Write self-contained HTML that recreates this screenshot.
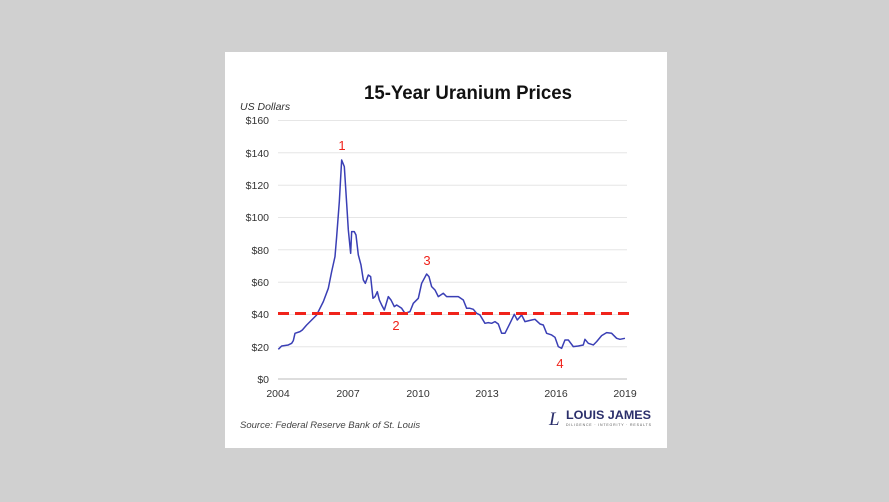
<!DOCTYPE html>
<html><head><style>
body{margin:0;width:889px;height:502px;background:#d0d0d0;overflow:hidden;font-family:"Liberation Sans",sans-serif}
</style></head><body>
<svg width="889" height="502" style="position:absolute;left:0;top:0">
<rect x="225" y="52" width="442" height="396" fill="#fff"/>
<text x="468" y="99" text-anchor="middle" font-size="19.5" font-weight="bold" fill="#111" textLength="208" lengthAdjust="spacingAndGlyphs">15-Year Uranium Prices</text>
<text x="240" y="110" font-size="10.5" font-style="italic" fill="#333">US Dollars</text>
<g stroke="#e6e6e6" stroke-width="1">
<line x1="278" x2="627" y1="120.5" y2="120.5"/><line x1="278" x2="627" y1="152.8" y2="152.8"/>
<line x1="278" x2="627" y1="185.2" y2="185.2"/><line x1="278" x2="627" y1="217.5" y2="217.5"/>
<line x1="278" x2="627" y1="249.8" y2="249.8"/><line x1="278" x2="627" y1="282.2" y2="282.2"/>
<line x1="278" x2="627" y1="314.5" y2="314.5"/><line x1="278" x2="627" y1="346.8" y2="346.8"/>
</g>
<line x1="278" x2="627" y1="379" y2="379" stroke="#bbb"/>
<g font-size="10.5" fill="#333" text-anchor="end">
<text x="269" y="124">$160</text><text x="269" y="157">$140</text><text x="269" y="189">$120</text>
<text x="269" y="221">$100</text><text x="269" y="254">$80</text><text x="269" y="286">$60</text>
<text x="269" y="318">$40</text><text x="269" y="351">$20</text><text x="269" y="383">$0</text>
</g>
<g font-size="10.5" fill="#333" text-anchor="middle">
<text x="278" y="397">2004</text><text x="348" y="397">2007</text><text x="418" y="397">2010</text>
<text x="487" y="397">2013</text><text x="556" y="397">2016</text><text x="625" y="397">2019</text>
</g>
<g transform="translate(225,50) scale(0.3333)">
<polyline fill="none" stroke="#3a3fb5" stroke-width="4.5" stroke-linejoin="round" points="160,898 170,888 190,885 200,880 205,872 210,850 225,845 232,840 245,825 260,810 275,795 295,755 310,715 320,665 330,620 335,560 343,455 350,330 358,350 365,460 370,540 377,610 380,545 388,545 393,555 400,615 408,645 415,690 421,700 430,675 437,680 444,745 450,740 457,725 463,750 470,765 478,780 490,740 498,750 508,770 515,765 530,775 540,790 555,785 565,760 580,745 590,700 605,672 612,680 620,710 630,720 640,740 655,730 665,740 700,740 715,750 725,775 735,775 745,778 755,790 765,795 780,820 790,818 800,820 810,815 820,822 830,850 840,850 855,820 868,793 877,810 890,795 900,815 920,810 930,808 945,822 955,825 965,850 980,855 990,862 1000,890 1010,895 1020,870 1030,870 1045,890 1060,888 1075,885 1080,868 1090,880 1105,885 1115,875 1130,857 1145,848 1160,850 1175,865 1185,868 1200,865"/>
</g>
<line x1="278" x2="633" y1="313.5" y2="313.5" stroke="#f0231b" stroke-width="3" stroke-dasharray="11,6"/>
<g font-size="13" fill="#f0231b" text-anchor="middle">
<text x="342" y="150">1</text><text x="396" y="330">2</text><text x="427" y="265">3</text><text x="560" y="368">4</text>
</g>
<text x="240" y="428" font-size="9.5" font-style="italic" fill="#444">Source: Federal Reserve Bank of St. Louis</text>
<text x="549" y="425" font-size="19" font-style="italic" font-family="Liberation Serif,serif" fill="#2b2f6b">L</text>
<text x="566" y="419" font-size="11.5" font-weight="bold" fill="#2b2f6b" textLength="85" lengthAdjust="spacingAndGlyphs">LOUIS JAMES</text>
<text x="566" y="426" font-size="3.5" fill="#555" textLength="85">DILIGENCE · INTEGRITY · RESULTS</text>
</svg>
</body></html>
